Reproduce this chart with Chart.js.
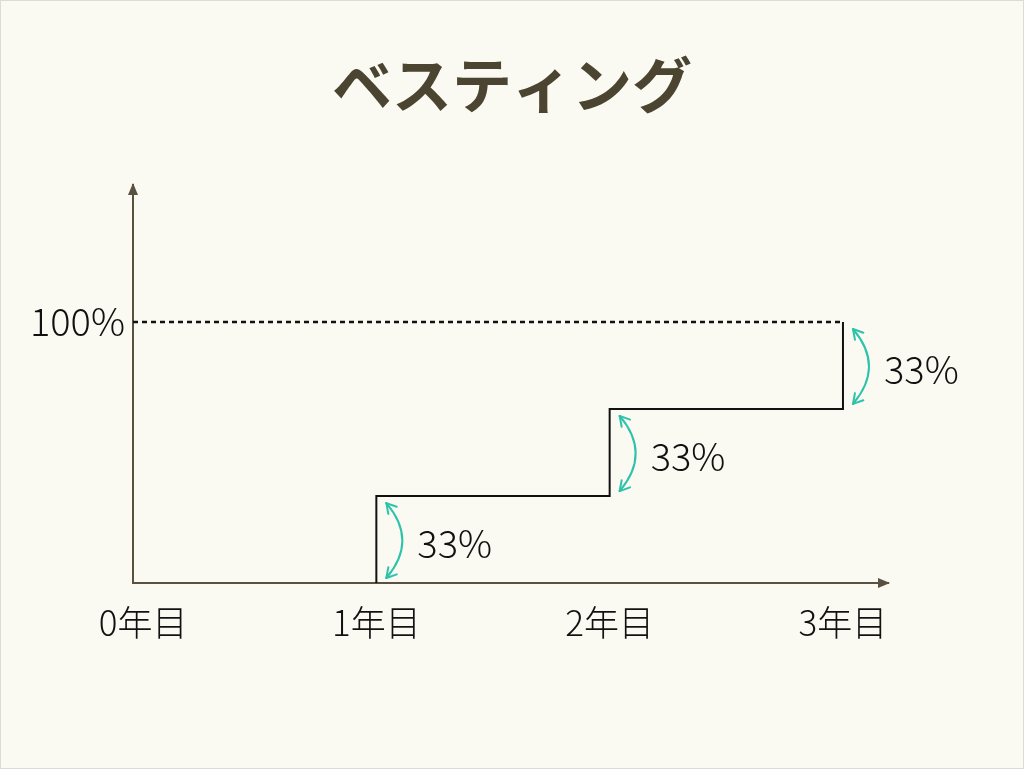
<!DOCTYPE html>
<html>
<head>
<meta charset="utf-8">
<script src="https://cdn.jsdelivr.net/npm/chart.js@4/dist/chart.umd.min.js"></script>
<style>
  html, body { margin: 0; padding: 0; background: #faf9f2; }
  #wrap { width: 1024px; height: 769px; position: relative; box-sizing: border-box; border: 1px solid #dcdcd6; }
  canvas { display: block; }
</style>
</head>
<body>
<div id="wrap"><canvas id="chart" width="1022" height="767"></canvas></div>
<script>
// ============================================================
// DATA
// ============================================================
var titleText = 'ベスティング';
var yearLabels = ['0年目', '1年目', '2年目', '3年目'];
var vestX = [1, 1, 2, 2, 3, 3];
var vestY = [0, 33.3, 33.3, 66.7, 66.7, 100];
var stepYears = [1, 2, 3];
var stepFrom = [0, 33.3, 66.7];
var stepTo = [33.3, 66.7, 100];
var stepLabels = ['33%', '33%', '33%'];
var fullValue = 100;
var yTickValues = [100];

var xMin = -0.043, xMax = 3.193;
var yMax = 152.5;

var AXIS = '#5a5140';
var TEAL = '#2cc3aa';
var FONT = '"Noto Sans CJK JP", "Noto Sans", sans-serif';

// ============================================================
// PLUGIN: title, axis arrows, curved step arrows
// ============================================================
function chevron(ctx, x, y, dx, dy) {
  var len = Math.sqrt(dx * dx + dy * dy);
  var ux = dx / len, uy = dy / len;
  var L = 11, a = Math.PI / 6;
  [a, -a].forEach(function(t) {
    var rx = ux * Math.cos(t) - uy * Math.sin(t);
    var ry = ux * Math.sin(t) + uy * Math.cos(t);
    ctx.beginPath();
    ctx.moveTo(x, y);
    ctx.lineTo(x - rx * L, y - ry * L);
    ctx.stroke();
  });
}

var vestPlugin = {
  id: 'vest',
  afterDraw: function(chart) {
    var ctx = chart.ctx;
    var area = chart.chartArea;
    var xs = chart.scales.x, ys = chart.scales.y;
    ctx.save();

    // title
    ctx.fillStyle = '#4b4431';
    ctx.font = 'bold 60px ' + FONT;
    ctx.textAlign = 'center';
    ctx.textBaseline = 'middle';
    ctx.fillText(titleText, 511, 84);

    // axis arrowheads
    ctx.fillStyle = AXIS;
    ctx.beginPath();
    ctx.moveTo(area.left, area.top - 2);
    ctx.lineTo(area.left - 5, area.top + 10);
    ctx.lineTo(area.left + 5, area.top + 10);
    ctx.closePath();
    ctx.fill();
    ctx.beginPath();
    ctx.moveTo(area.right + 2, area.bottom);
    ctx.lineTo(area.right - 10, area.bottom - 5);
    ctx.lineTo(area.right - 10, area.bottom + 5);
    ctx.closePath();
    ctx.fill();

    // curved arrows + labels
    ctx.strokeStyle = TEAL;
    ctx.lineWidth = 2;
    ctx.lineCap = 'round';
    for (var i = 0; i < stepYears.length; i++) {
      var px = xs.getPixelForValue(stepYears[i]);
      var yTop = ys.getPixelForValue(stepTo[i]) + 7;
      var yBot = ys.getPixelForValue(stepFrom[i]) - 5;
      var x0 = px + 10, cx = px + 42, cy = (yTop + yBot) / 2;
      ctx.beginPath();
      ctx.moveTo(x0, yTop);
      ctx.quadraticCurveTo(cx, cy, x0, yBot);
      ctx.stroke();
      chevron(ctx, x0, yTop, x0 - cx, yTop - cy);
      chevron(ctx, x0, yBot, x0 - cx, yBot - cy);

      ctx.fillStyle = '#111';
      ctx.font = '300 38px ' + FONT;
      ctx.textAlign = 'left';
      ctx.textBaseline = 'middle';
      ctx.fillText(stepLabels[i], px + 41, cy + 3);
    }
    ctx.restore();
  }
};

// ============================================================
// CHART
// ============================================================
var ctx = document.getElementById('chart').getContext('2d');
new Chart(ctx, {
  type: 'line',
  data: {
    datasets: [
      {
        label: 'vesting',
        data: vestX.map(function(x, i) { return { x: x, y: vestY[i] }; }),
        borderColor: '#111',
        borderWidth: 2,
        pointRadius: 0,
        tension: 0,
        fill: false
      },
      {
        label: 'full',
        data: [{ x: xMin, y: fullValue }, { x: 3, y: fullValue }],
        borderColor: '#111',
        borderWidth: 2.5,
        borderDash: [5, 4],
        pointRadius: 0,
        fill: false
      }
    ]
  },
  options: {
    responsive: false,
    animation: false,
    layout: { padding: { left: 0, top: 184, right: 135, bottom: 0 } },
    plugins: { legend: { display: false }, tooltip: { enabled: false } },
    scales: {
      x: {
        type: 'linear',
        min: xMin,
        max: xMax,
        afterBuildTicks: function(s) { s.ticks = yearLabels.map(function(_, i) { return { value: i }; }); },
        afterFit: function(s) { s.height = 767 - 582; },
        grid: { display: false, drawTicks: false },
        border: { display: true, color: AXIS, width: 2 },
        ticks: {
          color: '#111',
          padding: 19,
          maxRotation: 0,
          autoSkip: false,
          font: { family: FONT, size: 35, weight: '300' },
          callback: function(v) { return yearLabels[v]; }
        }
      },
      y: {
        type: 'linear',
        min: 0,
        max: yMax,
        afterBuildTicks: function(s) { s.ticks = yTickValues.map(function(v) { return { value: v }; }); },
        afterFit: function(s) { s.width = 132; },
        grid: { display: false, drawTicks: false },
        border: { display: true, color: AXIS, width: 2 },
        ticks: {
          color: '#111',
          padding: 8,
          font: { family: FONT, size: 38, weight: '300' },
          callback: function(v) { return v + '%'; }
        }
      }
    }
  },
  plugins: [vestPlugin]
});
</script>
</body>
</html>
